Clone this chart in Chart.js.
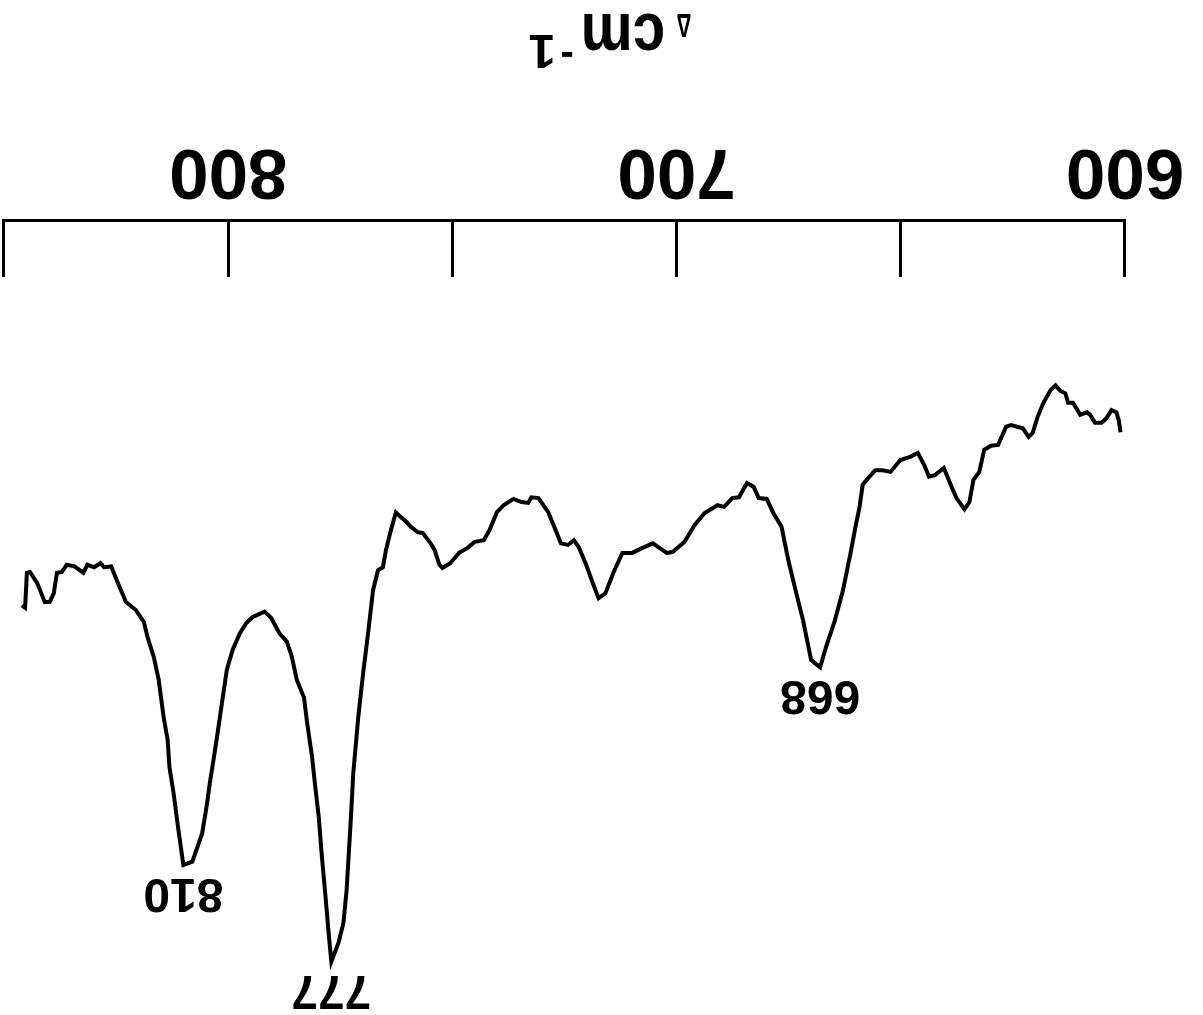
<!DOCTYPE html>
<html>
<head>
<meta charset="utf-8">
<title>IR spectrum 600–850 cm⁻¹</title>
<script src="https://cdn.jsdelivr.net/npm/chart.js@4.4.1/dist/chart.umd.min.js"></script>
<style>
  html, body { margin: 0; padding: 0; background: #fff; }
  /* the sheet is mounted upside down */
  #sheet { width: 1203px; height: 1015px; transform: rotate(180deg); transform-origin: 50% 50%; background: #fff; }
  canvas { display: block; }
</style>
</head>
<body>
<div id="sheet"><canvas id="spectrum" width="1203" height="1015"></canvas></div>
<script>
// Wavenumber (cm-1) of each sample on the recorded trace
const wavenumbers = [
  601.0, 601.4, 601.9, 603.0, 604.1, 605.2, 606.7, 607.8, 608.5, 610.0,
  611.6, 612.7, 613.3, 614.4, 615.5, 616.6, 618.2, 619.5, 620.6, 621.5,
  622.8, 625.4, 626.5, 628.3, 629.9, 631.4, 632.5, 633.8, 634.7, 635.8,
  637.6, 639.1, 640.4, 642.4, 643.7, 644.8, 646.2, 647.9, 650.1, 652.3,
  654.1, 655.7, 657.0, 658.5, 659.2, 660.1, 661.2, 662.9, 664.7, 666.7,
  668.0, 670.0, 671.8, 673.3, 675.1, 676.6, 678.4, 679.9, 681.7, 682.8,
  684.3, 686.1, 687.6, 689.4, 690.9, 693.8, 696.0, 698.2, 700.9, 702.2,
  705.3, 707.7, 709.9, 712.1, 714.1, 715.9, 717.4, 718.7, 720.3, 721.8,
  722.9, 724.2, 725.8, 727.3, 728.6, 730.8, 732.4, 733.1, 734.6, 736.4,
  738.6, 740.1, 741.7, 743.0, 745.0, 746.7, 748.5, 750.5, 752.2, 752.9,
  754.0, 755.1, 756.6, 757.7, 759.3, 760.6, 761.5, 762.6, 763.7, 764.8,
  765.5, 766.6, 767.7, 768.8, 769.9, 771.0, 772.1, 772.7, 773.6, 774.3,
  775.4, 777.0, 777.6, 778.3, 779.1, 779.8, 780.5, 781.3, 782.4, 783.1,
  784.7, 785.8, 786.9, 788.6, 790.4, 791.9, 794.6, 795.9, 797.4, 799.0,
  800.3, 801.4, 802.5, 803.4, 804.1, 804.7, 805.8, 808.0, 810.0, 811.1,
  812.2, 813.1, 813.5, 814.4, 815.5, 816.6, 818.0, 818.8, 820.6, 822.8,
  824.6, 826.1, 827.7, 828.5, 829.9, 831.4, 832.3, 834.3, 836.0, 837.1,
  838.2, 838.9, 839.8, 840.9, 842.6, 844.2, 844.9, 845.3, 846.0
];

// Relative absorbance (arbitrary units, 0 = baseline of the recorder)
const absorbance = [
  26.6, 25.1, 24.1, 23.8, 24.8, 25.4, 25.4, 24.4, 24.1, 24.4,
  22.9, 22.9, 21.7, 21.4, 20.7, 21.3, 22.9, 24.7, 26.7, 27.2,
  26.1, 25.7, 25.9, 28.2, 28.3, 28.8, 31.6, 32.6, 35.4, 36.3,
  34.9, 32.9, 31.1, 32.0, 32.2, 30.7, 29.2, 29.7, 30.1, 31.6,
  31.4, 31.4, 32.2, 33.2, 36.0, 38.5, 41.8, 46.5, 50.3, 53.7,
  56.2, 55.3, 50.3, 46.9, 42.7, 38.5, 36.8, 35.0, 34.9, 33.5,
  33.0, 34.8, 34.9, 36.0, 35.8, 36.8, 38.3, 40.4, 41.7, 41.8,
  40.6, 41.2, 41.8, 41.8, 44.3, 46.9, 47.5, 45.6, 43.1, 41.1,
  40.2, 40.8, 40.6, 38.5, 36.7, 34.9, 34.8, 35.5, 35.4, 35.0,
  35.8, 36.7, 38.9, 40.2, 40.4, 41.2, 41.8, 43.1, 43.7, 43.3,
  41.4, 40.4, 39.3, 39.2, 38.5, 37.7, 37.3, 36.7, 38.9, 41.4,
  43.6, 44.0, 46.5, 51.9, 56.9, 62.5, 69.5, 75.8, 84.3, 88.4,
  90.9, 93.3, 89.7, 85.1, 80.1, 75.1, 71.7, 67.5, 63.2, 60.0,
  57.8, 54.9, 53.0, 51.9, 50.0, 49.2, 49.9, 50.6, 51.9, 54.0,
  56.5, 60.7, 65.0, 68.3, 70.8, 73.3, 77.1, 80.7, 81.1, 76.7,
  72.0, 68.8, 65.4, 62.5, 57.8, 54.9, 52.4, 50.5, 49.0, 48.0,
  45.6, 43.5, 43.6, 43.1, 43.6, 43.3, 44.3, 43.5, 43.3, 44.2,
  44.3, 46.9, 48.0, 48.0, 45.6, 44.2, 44.3, 48.7, 48.4
];

// Axis ticks every 50 cm-1, numbered every 100
const axisTicks = [600, 650, 700, 750, 800, 850];
const axisLabels = ['600', '', '700', '', '800', ''];

// Assigned bands
const bandPositions = [810, 777, 668];
const bandLabels = ['810', '777', '668'];

const points = wavenumbers.map((wn, i) => ({ x: wn, y: absorbance[i] }));

// Band numbers written just above each absorption maximum
const bandLabelPlugin = {
  id: 'bandLabels',
  afterDatasetsDraw(chart) {
    const { ctx, scales: { x, y } } = chart;
    ctx.save();
    ctx.fillStyle = '#000';
    ctx.font = 'bold 48px "Liberation Sans", Arial, sans-serif';
    ctx.textAlign = 'center';
    ctx.textBaseline = 'alphabetic';
    bandPositions.forEach((wn, i) => {
      const idx = wavenumbers.indexOf(wn);
      const px = x.getPixelForValue(wn);
      const py = y.getPixelForValue(absorbance[idx]);
      ctx.fillText(bandLabels[i], px, py - 14);
    });
    ctx.restore();
  }
};

// Unit caption under the wavenumber scale: Δcm⁻¹
const unitCaptionPlugin = {
  id: 'unitCaption',
  afterDraw(chart) {
    const { ctx } = chart;
    const base = chart.height - 14;
    ctx.save();
    ctx.fillStyle = '#000';
    ctx.textAlign = 'center';
    ctx.textBaseline = 'alphabetic';

    ctx.save();
    ctx.translate(519, base);
    ctx.scale(0.6, 1);
    ctx.font = 'bold 34px "Liberation Sans", Arial, sans-serif';
    ctx.fillText('Δ', 0, 0);
    ctx.restore();

    ctx.save();
    ctx.translate(580, base);
    ctx.scale(0.86, 1);
    ctx.font = 'bold 68px "Liberation Sans", Arial, sans-serif';
    ctx.fillText('cm', 0, 0);
    ctx.restore();

    ctx.font = 'bold 40px "Liberation Sans", Arial, sans-serif';
    ctx.fillText('-', 636, base - 30);
    ctx.font = 'bold 49px "Liberation Sans", Arial, sans-serif';
    ctx.fillText('1', 661, base - 21);
    ctx.restore();
  }
};

new Chart(document.getElementById('spectrum'), {
  type: 'line',
  data: {
    datasets: [{
      data: points,
      borderColor: '#000',
      borderWidth: 4,
      pointRadius: 0,
      tension: 0,
      fill: false
    }]
  },
  options: {
    responsive: false,
    devicePixelRatio: 1,
    animation: false,
    layout: { padding: { top: 0, bottom: 0, left: 78, right: 4 } },
    plugins: { legend: { display: false }, tooltip: { enabled: false } },
    scales: {
      x: {
        type: 'linear',
        position: 'bottom',
        min: 600,
        max: 850,
        afterBuildTicks: (scale) => { scale.ticks = axisTicks.map(v => ({ value: v })); },
        afterFit: (scale) => {
          // fixed scale depth; the label offset must not widen the plot sideways
          scale.height = 221;
          scale.paddingLeft = 0;
          scale.paddingRight = 0;
        },
        border: { display: true, color: '#000', width: 3 },
        grid: {
          drawOnChartArea: false,
          drawTicks: true,
          tickLength: -56,
          color: '#000',
          lineWidth: 3
        },
        ticks: {
          autoSkip: false,
          maxRotation: 0,
          minRotation: 0,
          padding: 72,
          color: '#000',
          font: { family: '"Liberation Sans", Arial, sans-serif', size: 71, weight: 'bold', lineHeight: 1 },
          callback: (value) => axisLabels[axisTicks.indexOf(value)] ?? ''
        }
      },
      y: {
        display: false,
        min: 0,
        max: 100
      }
    }
  },
  plugins: [bandLabelPlugin, unitCaptionPlugin]
});
</script>
</body>
</html>
